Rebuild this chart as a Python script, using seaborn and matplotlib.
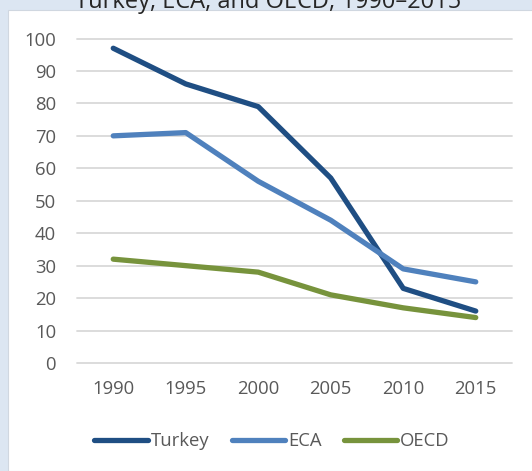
import matplotlib
matplotlib.use("Agg")
import matplotlib.pyplot as plt
import seaborn as sns
import pandas as pd
from matplotlib.patches import Rectangle

years = [1990, 1995, 2000, 2005, 2010, 2015]
turkey = [97, 86, 79, 57, 23, 16]
eca = [70, 71, 56, 44, 29, 25]
oecd = [32, 30, 28, 21, 17, 14]
series_names = ["Turkey", "ECA", "OECD"]
colors = ["#1F4E83", "#4F81BD", "#77933C"]
yticks = [0, 10, 20, 30, 40, 50, 60, 70, 80, 90, 100]
title = "Turkey, ECA, and OECD, 1990–2015"

df = pd.DataFrame({
    "year": years * 3,
    "value": turkey + eca + oecd,
    "series": [s for s in series_names for _ in years],
})

sns.set_theme(style="white")
plt.rcParams["font.family"] = ["Open Sans", "DejaVu Sans"]

fig = plt.figure(figsize=(5.32, 4.71), dpi=100)
fig.patch.set_facecolor("#DCE6F2")
fig.patches.append(Rectangle((8 / 532, 0), 1, 1 - 10 / 471, transform=fig.transFigure,
                             facecolor="white", edgecolor="#D0D7E0", linewidth=0.8, zorder=-5))
fig.text(268 / 532, 1 - 8 / 471, title, ha="center", va="baseline", fontsize=17, color="#262626")

ax = fig.add_axes([77 / 532, 1 - 363 / 471, (512 - 77) / 532, (363 - 38.5) / 471])
ax.set_facecolor("none")
ax.set_zorder(2)
for y in yticks:
    ax.axhline(y, color="#D9D9D9", linewidth=1.3, zorder=0, clip_on=False)

sns.lineplot(data=df, x="year", y="value", hue="series", hue_order=series_names,
             palette=colors, linewidth=3.8, ax=ax, legend=True, sort=False)
for line in ax.lines:
    line.set_solid_capstyle("round")
    line.set_solid_joinstyle("round")

ax.set_xlim(1987.5, 2017.5)
ax.set_ylim(0, 100)
ax.set_xticks(years)
ax.set_yticks(yticks)
ax.set_xlabel("")
ax.set_ylabel("")
for s in ax.spines.values():
    s.set_visible(False)
ax.tick_params(axis="both", length=0, labelsize=13.3, colors="#595959")
ax.tick_params(axis="y", pad=15)
ax.tick_params(axis="x", pad=12)

handles, labels = ax.get_legend_handles_labels()
for h in handles:
    h.set_solid_capstyle("round")
ax.legend(handles, labels, loc="center", bbox_to_anchor=(272 / 532, 1 - 441 / 471),
          bbox_transform=fig.transFigure, ncol=3, frameon=False, fontsize=13.3,
          handlelength=2.9, handletextpad=0.15, columnspacing=1.2, labelcolor="#595959")

fig.savefig("out.png", dpi=100)
